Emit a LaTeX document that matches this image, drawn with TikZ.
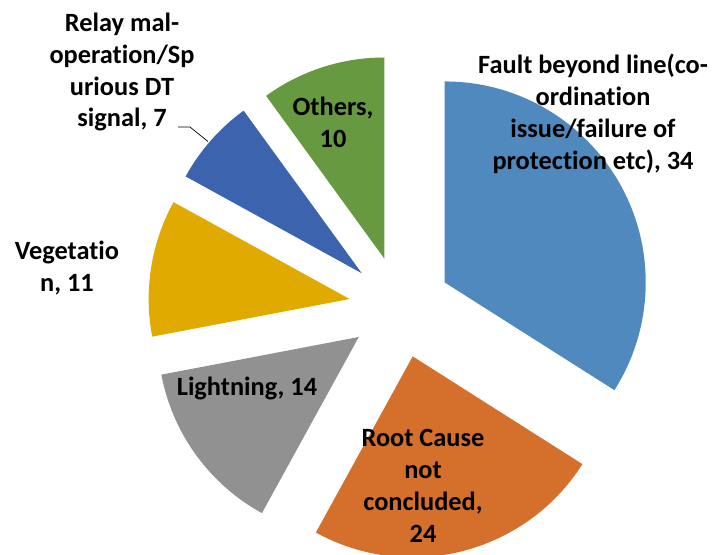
\documentclass[tikz,border=0pt]{standalone}
\usepackage{fontspec}
\setmainfont{Carlito}[Ligatures={NoCommon}]
\definecolor{faultblue}{HTML}{4F89BD}
\definecolor{rootorange}{HTML}{D4702C}
\definecolor{lightgray}{HTML}{919191}
\definecolor{vegyellow}{HTML}{E0AA00}
\definecolor{relayblue}{HTML}{3C64AE}
\definecolor{othergreen}{HTML}{679A40}
\tikzset{
  lbl/.style={font=\fontsize{15}{18.2}\selectfont\bfseries, align=center, inner sep=0pt},
}
\begin{document}
\begin{tikzpicture}
  \useasboundingbox (0,0) rectangle (14.3,11.08);
  \fill[faultblue]  (8.894,5.431) -- ++(90:4.02) arc[start angle=90, end angle=-32.4, radius=4.02] -- cycle; %故障 34
  \fill[rootorange] (8.254,3.952) -- ++(-32.4:4.02) arc[start angle=-32.4, end angle=-118.8, radius=4.02] -- cycle; %原因不明 24
  \fill[lightgray]  (7.175,4.340) -- ++(-118.8:4.02) arc[start angle=-118.8, end angle=-169.2, radius=4.02] -- cycle; %雷 14
  \fill[vegyellow]  (6.993,5.100) -- ++(-169.2:4.02) arc[start angle=-169.2, end angle=-208.8, radius=4.02] -- cycle; %植生 11
  \fill[relayblue]  (7.235,5.615) -- ++(-208.8:4.02) arc[start angle=-208.8, end angle=-234, radius=4.02] -- cycle; %リレー 7
  \fill[othergreen] (7.685,5.910) -- ++(-234:4.02) arc[start angle=-234, end angle=-270, radius=4.02] -- cycle; %その他 10

  \node[lbl] (fault) at (11.86,8.80) {Fault beyond line(co-\\ordination\\issue/failure of\\protection etc), 34};
  \node[lbl] (root) at (8.46,1.36) {Root Cause\\not\\concluded,\\24};
  \node[lbl] (light) at (4.94,3.32) {Lightning, 14};
  \node[lbl] (veg) at (1.34,5.72) {Vegetatio\\n, 11};
  \node[lbl] (relay) at (2.44,9.64) {Relay mal-\\operation/Sp\\urious DT\\signal, 7};
  \node[lbl] (others) at (6.66,8.64) {Others,\\10};

  \coordinate (leadA) at (3.56,8.54);
  \coordinate (leadB) at (3.80,8.54);
  \coordinate (relayedge) at (4.16,8.25);
  \draw[line width=0.4pt] (leadA) -- (leadB) -- (relayedge); %引出線
\end{tikzpicture}
\end{document}
